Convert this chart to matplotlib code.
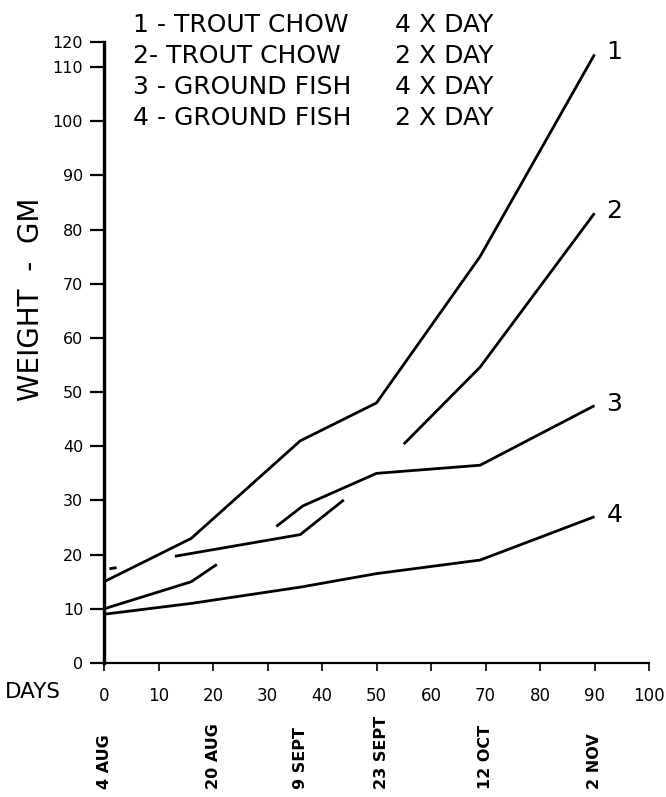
import numpy as np
import matplotlib
matplotlib.use("Agg")
import matplotlib.pyplot as plt
import matplotlib.transforms as mtransforms

nan = np.nan

# weight (gm) against days since 4 Aug; nan marks where the drawn line is broken at a crossing
days_1 = [0, 16, 36, 50, 69, 90]
weight_1 = [15, 23, 41, 48, 75, 115]

days_2 = [1, 2.3, nan, 13, 36, 44, nan, 55, 69, 90]
weight_2 = [17.4, 17.6, nan, 19.7, 23.7, 30.1, nan, 40.4, 54.6, 83]

days_3 = [0, 16, 20.7, nan, 31.6, 36.5, 50, 69, 90]
weight_3 = [10, 15, 18.2, nan, 25.2, 29, 35, 36.5, 47.5]

days_4 = [0, 16, 36, 50, 69, 90]
weight_4 = [9, 11, 14, 16.5, 19, 27]

curve_labels = ["1", "2", "3", "4"]
legend_names = ["1 - TROUT CHOW", "2- TROUT CHOW", "3 - GROUND FISH", "4 - GROUND FISH"]
legend_freq = ["4 X DAY", "2 X DAY", "4 X DAY", "2 X DAY"]

date_labels = ["4 AUG", "20 AUG", "9 SEPT", "23 SEPT", "12 OCT", "2 NOV"]
date_days = [0, 20, 36, 51, 70, 90]

x_ticks = list(range(0, 101, 10))
y_ticks = list(range(0, 121, 10))


# the hand drawn axis squeezes the last step (110 -> 120)
def fwd(y):
  y = np.asarray(y, dtype=float)
  return np.where(y <= 110, y, 110 + (y - 110) * 0.46)


def inv(y):
  y = np.asarray(y, dtype=float)
  return np.where(y <= 110, y, 110 + (y - 110) / 0.46)


fig = plt.figure(figsize=(6.66, 7.97), dpi=100)
ax = fig.add_axes([0.1562, 0.1681, 0.8183, 0.7792])

series = [(days_1, weight_1), (days_2, weight_2), (days_3, weight_3), (days_4, weight_4)]
ends = [(days_1[-1], weight_1[-1]), (days_2[-1], weight_2[-1]),
        (days_3[-1], weight_3[-1]), (days_4[-1], weight_4[-1])]

for (d, w) in series:
  ax.plot(d, w, color="black", linewidth=2.0, solid_capstyle="butt")

for (d, w), label in zip(ends, curve_labels):
  ax.annotate(label, (d, w), xytext=(12, 2), textcoords="offset pixels",
              ha="left", va="center", fontsize=18)

ax.set_yscale("function", functions=(fwd, inv))
ax.set_xlim(0, 100)
ax.set_ylim(0, 120)
ax.set_xticks(x_ticks)
ax.set_yticks(y_ticks)
ax.set_xticklabels([str(t) for t in x_ticks], fontsize=12)
ax.set_yticklabels([str(t) for t in y_ticks], fontsize=11.5)
ax.minorticks_off()

ax.spines["top"].set_visible(False)
ax.spines["right"].set_visible(False)
ax.spines["left"].set_linewidth(2.4)
ax.spines["bottom"].set_linewidth(1.6)
ax.tick_params(axis="y", direction="out", length=10, width=1.6, pad=5)
ax.tick_params(axis="x", direction="out", length=6, width=1.2, pad=11)

ax.set_ylabel("WEIGHT  -  GM", fontsize=20)
ax.yaxis.set_label_coords(-0.108, 0.585)

fig.text(5 / 666, 1 - 692 / 797, "DAYS", ha="left", va="center", fontsize=15.5)

trans = mtransforms.blended_transform_factory(ax.transData, fig.transFigure)
for d, label in zip(date_days, date_labels):
  ax.text(d, 1 - 789 / 797, label, transform=trans, rotation=90,
          ha="center", va="bottom", fontsize=11.5, fontweight="bold")

for i, (name, freq) in enumerate(zip(legend_names, legend_freq)):
  y = 1 - (25 + 31 * i) / 797
  fig.text(133 / 666, y, name, ha="left", va="center", fontsize=18)
  fig.text(395 / 666, y, freq, ha="left", va="center", fontsize=18)

fig.savefig("out.png", dpi=100)
plt.close(fig)
